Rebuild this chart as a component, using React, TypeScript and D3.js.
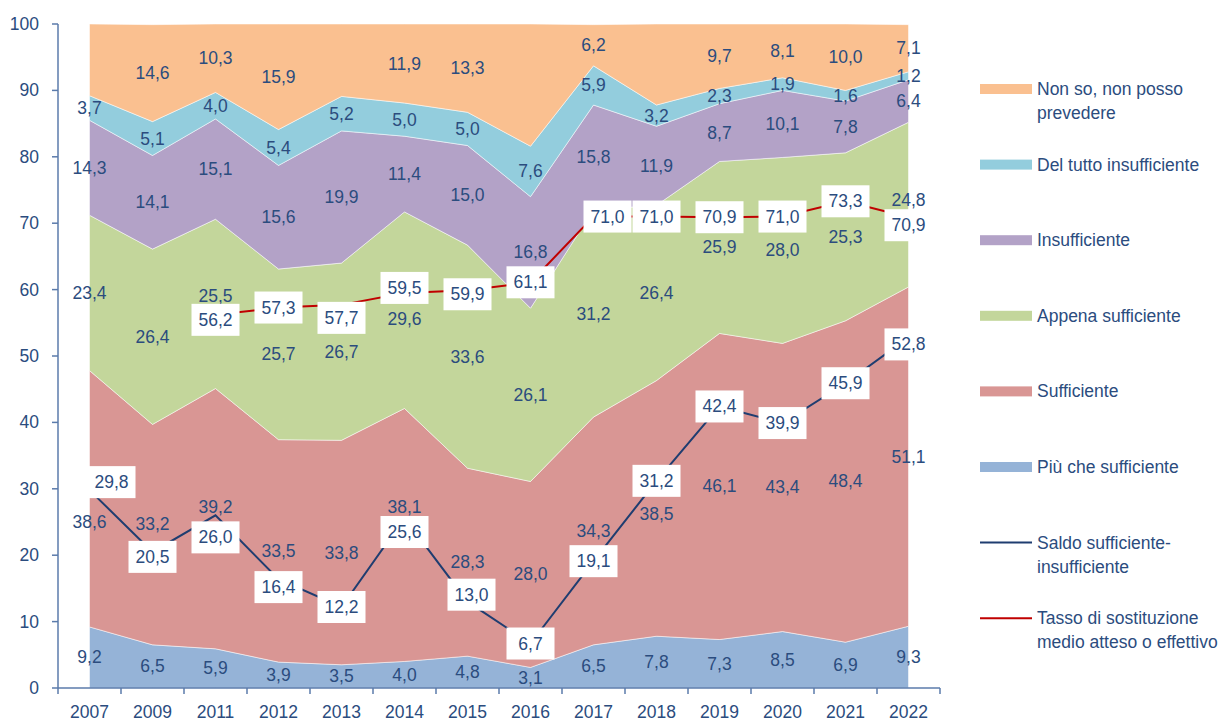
import { useMemo } from "react";
import * as d3 from "d3";

const W = 1219;
const H = 722;
const MARGIN = { top: 24, right: 279, bottom: 34, left: 58 };

// data
const years = ["2007", "2009", "2011", "2012", "2013", "2014", "2015", "2016", "2017", "2018", "2019", "2020", "2021", "2022"];
const piuCheSufficiente = [9.2, 6.5, 5.9, 3.9, 3.5, 4.0, 4.8, 3.1, 6.5, 7.8, 7.3, 8.5, 6.9, 9.3];
const sufficiente = [38.6, 33.2, 39.2, 33.5, 33.8, 38.1, 28.3, 28.0, 34.3, 38.5, 46.1, 43.4, 48.4, 51.1];
const appenaSufficiente = [23.4, 26.4, 25.5, 25.7, 26.7, 29.6, 33.6, 26.1, 31.2, 26.4, 25.9, 28.0, 25.3, 24.8];
const insufficiente = [14.3, 14.1, 15.1, 15.6, 19.9, 11.4, 15.0, 16.8, 15.8, 11.9, 8.7, 10.1, 7.8, 6.4];
const delTuttoInsufficiente = [3.7, 5.1, 4.0, 5.4, 5.2, 5.0, 5.0, 7.6, 5.9, 3.2, 2.3, 1.9, 1.6, 1.2];
const nonSo = [10.8, 14.6, 10.3, 15.9, 10.9, 11.9, 13.3, 18.4, 6.2, 12.2, 9.7, 8.1, 10.0, 7.1];
const nonSoUnlabeled = ["2007", "2013", "2016", "2018"];
const saldo = [29.8, 20.5, 26.0, 16.4, 12.2, 25.6, 13.0, 6.7, 19.1, 31.2, 42.4, 39.9, 45.9, 52.8];
const tasso = [null, null, 56.2, 57.3, 57.7, 59.5, 59.9, 61.1, 71.0, 71.0, 70.9, 71.0, 73.3, 70.9];
const yTicks = [0, 10, 20, 30, 40, 50, 60, 70, 80, 90, 100];

const seriesDefs = [
  { key: "piu", name: "Più che sufficiente", values: piuCheSufficiente, color: "#95B3D7" },
  { key: "suff", name: "Sufficiente", values: sufficiente, color: "#D99694" },
  { key: "appena", name: "Appena sufficiente", values: appenaSufficiente, color: "#C3D69B" },
  { key: "insuff", name: "Insufficiente", values: insufficiente, color: "#B3A2C7" },
  { key: "deltutto", name: "Del tutto insufficiente", values: delTuttoInsufficiente, color: "#93CDDD" },
  { key: "nonso", name: "Non so, non posso prevedere", values: nonSo, color: "#FAC090" },
];

// hand-moved labels, like in the original workbook (pixels)
const nudge: Record<string, [number, number]> = {
  "suff|2007": [0, 23], "suff|2009": [0, -11], "suff|2011": [0, -12], "suff|2014": [0, -28], "suff|2018": [0, 6],
  "appena|2011": [0, -8], "appena|2014": [0, 9], "appena|2022": [0, -5],
  "saldo|2007": [22, -8], "saldo|2009": [0, 5], "saldo|2011": [0, 22], "saldo|2012": [0, 8],
  "saldo|2014": [0, 14], "saldo|2015": [4, -7], "saldo|2022": [0, 7],
  "tasso|2011": [0, 5], "tasso|2013": [0, 13], "tasso|2014": [0, -5], "tasso|2015": [0, 4],
  "tasso|2017": [14, 0], "tasso|2022": [0, 8],
};

const TEXT = "#2B4C7E";
const AXIS = "#5B7BAB";
const SALDO = "#1F3D70";
const TASSO = "#C00000";
const FONT = "'Liberation Sans', Arial, sans-serif";
const FS = 17.5;

const fmt = (v: number) => d3.format(".1f")(v).replace(".", ",");

const App = () => {
  const x = useMemo(
    () => d3.scaleBand().domain(years).range([MARGIN.left, W - MARGIN.right]).padding(0),
    []
  );
  const y = useMemo(() => d3.scaleLinear().domain([0, 100]).range([H - MARGIN.bottom, MARGIN.top]), []);
  const cx = (yr: string) => (x(yr) as number) + x.bandwidth() / 2;

  const table = years.map((yr, i) => {
    const row: any = { year: yr };
    seriesDefs.forEach((s) => (row[s.key] = s.values[i]));
    return row;
  });
  const stacked = d3.stack().keys(seriesDefs.map((s) => s.key))(table);

  const area = d3
    .area<any>()
    .x((d) => cx(d.data.year))
    .y0((d) => y(d[0]))
    .y1((d) => y(d[1]));

  const line = d3
    .line<any>()
    .defined((d) => d.v != null)
    .x((d) => cx(d.year))
    .y((d) => y(d.v));

  const saldoPts = years.map((yr, i) => ({ year: yr, v: saldo[i] }));
  const tassoPts = years.map((yr, i) => ({ year: yr, v: tasso[i] }));

  const legendRows = [
    { lines: ["Non so, non posso", "prevedere"], color: "#FAC090", kind: "rect" },
    { lines: ["Del tutto insufficiente"], color: "#93CDDD", kind: "rect" },
    { lines: ["Insufficiente"], color: "#B3A2C7", kind: "rect" },
    { lines: ["Appena sufficiente"], color: "#C3D69B", kind: "rect" },
    { lines: ["Sufficiente"], color: "#D99694", kind: "rect" },
    { lines: ["Più che sufficiente"], color: "#95B3D7", kind: "rect" },
    { lines: ["Saldo sufficiente-", "insufficiente"], color: SALDO, kind: "line" },
    { lines: ["Tasso di sostituzione", "medio atteso o effettivo"], color: TASSO, kind: "line" },
  ];

  const boxLabel = (series: string, pts: { year: string; v: number | null }[]) =>
    pts
      .filter((p) => p.v != null)
      .map((p) => {
        const [dx, dy] = nudge[`${series}|${p.year}`] || [0, 0];
        const px = cx(p.year) + dx;
        const py = y(p.v as number) + dy;
        return (
          <g key={series + p.year}>
            <rect x={px - 24} y={py - 16} width={48} height={32} fill="#fff" />
            <text x={px} y={py} textAnchor="middle" dominantBaseline="central" fontSize={FS} fill={TEXT}>
              {fmt(p.v as number)}
            </text>
          </g>
        );
      });

  return (
    <svg width={W} height={H} style={{ position: "absolute", left: 0, top: 0, fontFamily: FONT }}>
      <rect width={W} height={H} fill="#fff" />
      {stacked.map((s, i) => (
        <path key={s.key} d={area(s) || ""} fill={seriesDefs[i].color} stroke="#fff" strokeOpacity={0.5} strokeWidth={1} />
      ))}

      {/* axes */}
      <line x1={MARGIN.left} x2={MARGIN.left} y1={y(100)} y2={y(0)} stroke={AXIS} strokeWidth={1.5} />
      {yTicks.map((t) => (
        <g key={t}>
          <line x1={MARGIN.left - 6} x2={MARGIN.left} y1={y(t)} y2={y(t)} stroke={AXIS} strokeWidth={1.5} />
          <text x={39} y={y(t)} textAnchor="end" dominantBaseline="central" fontSize={FS} fill={TEXT}>
            {t}
          </text>
        </g>
      ))}
      <line x1={MARGIN.left} x2={W - MARGIN.right} y1={y(0)} y2={y(0)} stroke={AXIS} strokeWidth={1.5} />
      {years.map((yr) => (
        <g key={yr}>
          <line x1={x(yr)} x2={x(yr)} y1={y(0)} y2={y(0) + 6} stroke={AXIS} strokeWidth={1.5} />
          <text x={cx(yr)} y={712} textAnchor="middle" dominantBaseline="central" fontSize={FS} fill={TEXT}>
            {yr}
          </text>
        </g>
      ))}
      <line x1={W - MARGIN.right} x2={W - MARGIN.right} y1={y(0)} y2={y(0) + 6} stroke={AXIS} strokeWidth={1.5} />

      {/* lines */}
      <path d={line(saldoPts) || ""} fill="none" stroke={SALDO} strokeWidth={2} />
      <path d={line(tassoPts) || ""} fill="none" stroke={TASSO} strokeWidth={2} />

      {/* band labels */}
      {stacked.map((s, i) =>
        s.map((d: any) => {
          const yr = d.data.year;
          if (seriesDefs[i].key === "nonso" && nonSoUnlabeled.includes(yr)) return null;
          const [dx, dy] = nudge[`${seriesDefs[i].key}|${yr}`] || [0, 0];
          return (
            <text
              key={s.key + yr}
              x={cx(yr) + dx}
              y={y((d[0] + d[1]) / 2) + dy}
              textAnchor="middle"
              dominantBaseline="central"
              fontSize={FS}
              fill={TEXT}
            >
              {fmt(d[1] - d[0])}
            </text>
          );
        })
      )}

      {boxLabel("saldo", saldoPts)}
      {boxLabel("tasso", tassoPts)}

      {/* legend */}
      {legendRows.map((r, i) => {
        const ry = 89 + i * 75.6;
        return (
          <g key={i}>
            {r.kind === "rect" ? (
              <rect x={980} y={ry - 5} width={52} height={10} fill={r.color} />
            ) : (
              <line x1={980} x2={1032} y1={ry} y2={ry} stroke={r.color} strokeWidth={2} />
            )}
            {r.lines.map((t, j) => (
              <text key={j} x={1037} y={ry + j * 24} dominantBaseline="central" fontSize={FS} fill={TEXT}>
                {t}
              </text>
            ))}
          </g>
        );
      })}
    </svg>
  );
};

export default App;
